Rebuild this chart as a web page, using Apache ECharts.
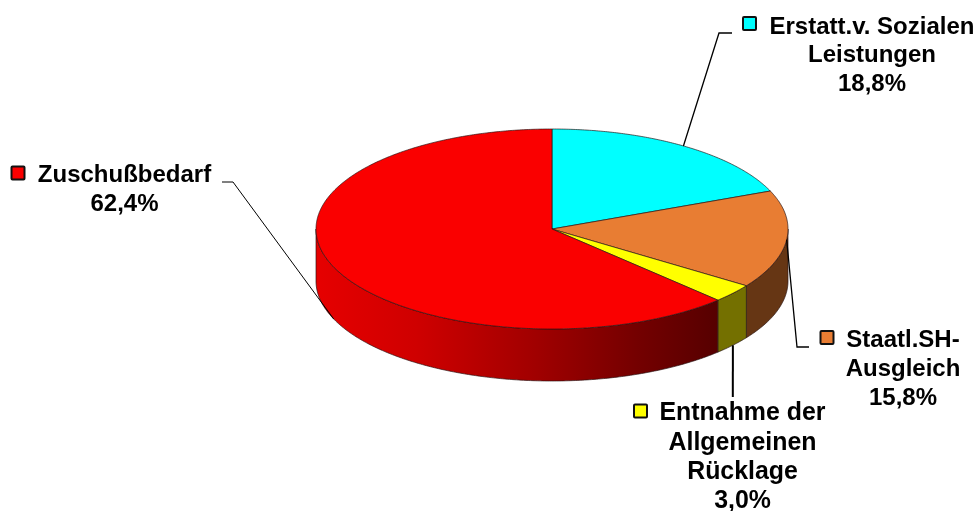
<!DOCTYPE html>
<html><head><meta charset="utf-8">
<style>html,body{margin:0;padding:0;background:#fff}#c{width:979px;height:511px}</style>
<script src="https://cdn.jsdelivr.net/npm/echarts@6/dist/echarts.min.js"></script>
</head><body><div id="c"></div>
<script>
// Data, clockwise from 12 o'clock
const categories = ['Erstatt.v. Sozialen\nLeistungen', 'Staatl.SH-\nAusgleich', 'Entnahme der\nAllgemeinen\nRücklage', 'Zuschußbedarf'];
const values = [18.8, 15.8, 3.0, 62.4];

// Styles
const topColors = ['#00ffff', '#e87d33', '#ffff00', '#fa0000'];
const sideColors = ['#006f6f', '#663614', '#747000', null];

// Layout
const CX = 552, CY = 229, RX = 236, RY = 100, DEPTH = 52;
const FONT_FAMILY = '"Liberation Sans", Arial, sans-serif';
// text centre x, first-line centre y, font size, line height, key left, key top, leader stops, leader width, leader on lower rim
const layout = [
  {tx: 872, ty: 27, fs: 24, lh: 28.7, kx: 743, ky: 17, stops: [[719, 33], [732, 33]], w: 1.3, lower: false},
  {tx: 903, ty: 340.5, fs: 24, lh: 28.7, kx: 820.5, ky: 331, stops: [[797, 347], [809, 347]], w: 1.3, lower: false},
  {tx: 742.5, ty: 413.5, fs: 24.9, lh: 29.2, kx: 634, ky: 404.5, stops: [[732.8, 397]], w: 2, lower: true},
  {tx: 124.5, ty: 175.5, fs: 24, lh: 28.7, kx: 11.5, ky: 166.5, stops: [[233, 182], [222, 182]], w: 1, lower: true}
];

const total = values.reduce((a, b) => a + b, 0);
const starts = [];
values.reduce((acc, v, i) => { starts[i] = acc; return acc + v; }, 0);
const rad = v => v / total * 2 * Math.PI;
const pt = (a, dy) => [CX + RX * Math.sin(a), CY - RY * Math.cos(a) + (dy || 0)];
function arc(a0, a1, dy) {
  const n = Math.max(2, Math.ceil(Math.abs(a1 - a0) / 0.01));
  const out = [];
  for (let i = 0; i <= n; i++) out.push(pt(a0 + (a1 - a0) * i / n, dy));
  return out;
}
const redSide = {
  type: 'linear', global: true, x: CX - RX, y: 0, x2: 718, y2: 0,
  colorStops: [
    {offset: 0, color: '#e60000'}, {offset: 0.25, color: '#cf0000'},
    {offset: 0.55, color: '#a00000'}, {offset: 0.8, color: '#740000'},
    {offset: 1, color: '#560000'}
  ]
};
const edge = {stroke: 'rgba(40,20,20,0.75)', lineWidth: 0.9, lineJoin: 'round'};

function renderSide(p, api) {
  const i = p.dataIndex;
  const a0 = Math.max(rad(starts[i]), Math.PI / 2);
  const a1 = Math.min(rad(starts[i] + api.value(0)), 3 * Math.PI / 2);
  if (a1 <= a0) return {type: 'group', children: []};
  const points = arc(a0, a1, 0).concat(arc(a1, a0, DEPTH));
  return {type: 'polygon', shape: {points},
    style: Object.assign({fill: sideColors[i] || redSide}, edge)};
}
function renderTop(p, api) {
  const i = p.dataIndex;
  const a0 = rad(starts[i]), a1 = rad(starts[i] + api.value(0));
  return {type: 'polygon', shape: {points: [[CX, CY]].concat(arc(a0, a1, 0))},
    style: Object.assign({fill: topColors[i]}, edge)};
}
function renderLabel(p, api) {
  const i = p.dataIndex, L = layout[i];
  const v = api.value(0);
  const mid = rad(starts[i] + v / 2);
  const anchor = pt(mid, L.lower ? DEPTH : 0);
  const lines = categories[i] + '\n' + v.toFixed(1).replace('.', ',') + '%';
  return {type: 'group', children: [
    {type: 'polyline', shape: {points: [anchor].concat(L.stops)},
      style: {fill: 'none', stroke: '#000', lineWidth: L.w}},
    {type: 'rect', shape: {x: L.kx, y: L.ky, width: 13, height: 13, r: 1},
      style: {fill: topColors[i], stroke: '#111', lineWidth: 2}},
    {type: 'text', style: {text: lines, x: L.tx, y: L.ty - L.lh / 2, font: 'bold ' + L.fs + 'px ' + FONT_FAMILY, fill: '#000',
      textAlign: 'center', textVerticalAlign: 'top', lineHeight: L.lh}}
  ]};
}
const chart = echarts.init(document.getElementById('c'), null, {renderer: 'canvas'});
chart.setOption({
  animation: false,
  backgroundColor: '#fff',
  series: [
    {type: 'custom', name: 'Seite', coordinateSystem: 'none', renderItem: renderSide, data: values, z: 1, silent: true},
    {type: 'custom', name: 'Anteil', coordinateSystem: 'none', renderItem: renderTop, data: values, z: 2, silent: true},
    {type: 'custom', name: 'Beschriftung', coordinateSystem: 'none', renderItem: renderLabel, data: values, z: 3, silent: true}
  ]
});
</script></body></html>
